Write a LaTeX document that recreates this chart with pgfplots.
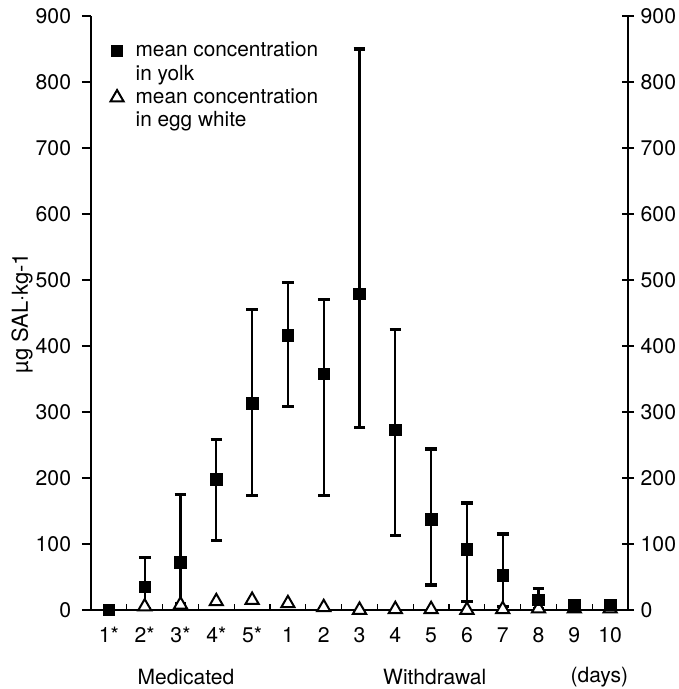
\documentclass[border=0pt]{standalone}
\usepackage{fontspec}
\setmainfont{TeX Gyre Heros}
\usepackage{pgfplots}
\pgfplotsset{compat=1.18}
\begin{document}
\fontsize{10.5pt}{12.5pt}\selectfont
\begin{tikzpicture}
\pgfplotsset{
  common/.style={
    width=268.5pt, height=297pt, scale only axis,
    xmin=0.5, xmax=15.5, ymin=0, ymax=900,
    /pgf/number format/assume math mode=true,
    ticklabel style={font=\fontsize{10.6pt}{12pt}\selectfont},
    axis line style={line width=0.6pt},
    every tick/.style={black, line width=0.6pt},
  }
}
\begin{axis}[common, name=ax,
  axis x line*=bottom, axis y line*=left,
  ytick={0,100,...,900},
  y tick style={/pgfplots/major tick length=4.5pt},
  ytick align=outside,
  xtick={1,...,15},
  xticklabels={1*,2*,3*,4*,5*,1,2,3,4,5,6,7,8,9,10},
  major x tick style={draw=none},
  minor xtick={1.5,2.5,...,14.5},
  minor x tick style={/pgfplots/minor tick length=3pt},
  xtick align=inside,
  xticklabel style={yshift=-5pt},
  yticklabel style={xshift=-2pt},
  clip=false,
  legend style={at={(axis description cs:0.016,0.96)}, anchor=north west, draw=none, fill=none,
    row sep=0.6pt, font=\fontsize{10.4pt}{12pt}\selectfont, inner sep=0pt,
    nodes={inner sep=1pt},
    /tikz/every odd column/.append style={column sep=5pt}},
  legend cell align=left,
]
\addplot[forget plot, only marks, mark=triangle*, mark size=3.8pt,
  mark options={fill=white, draw=black, line width=1pt}]
  coordinates {(2,5) (3,8) (4,13) (5,15) (6,10) (7,4) (8,0) (9,1) (10,1) (11,0) (12,1) (13,2) (14,2) (15,2)};
\addplot[forget plot, only marks, mark=square*, mark size=2.9pt, black,
  error bars/.cd, y dir=both, y explicit,
  error bar style={line width=1.1pt},
  error mark options={rotate=90, line width=1.6pt, mark size=2.9pt}]
  coordinates {
   (1,0)
   (2,35) += (0,45) -= (0,33)
   (3,72) += (0,103) -= (0,62)
   (4,198) += (0,60) -= (0,93)
   (5,313) += (0,142) -= (0,140)
   (6,416) += (0,80) -= (0,108)
   (7,358) += (0,113) -= (0,184)
   (8,479) += (0,371) -= (0,203)
   (9,273) += (0,152) -= (0,160)
   (10,137) += (0,107) -= (0,99)
   (11,92) += (0,70) -= (0,79)
   (12,52) += (0,63) -= (0,47)
   (13,15) += (0,17) -= (0,13)
   (14,7)
   (15,8)
  };
\addlegendimage{only marks, mark=square*, mark size=2.9pt, black}
\addlegendentry{mean concentration}
\addlegendimage{empty legend}
\addlegendentry{in yolk}
\addlegendimage{only marks, mark=triangle*, mark size=3.8pt, mark options={fill=white, draw=black, line width=1pt}}
\addlegendentry{mean concentration}
\addlegendimage{empty legend}
\addlegendentry{in egg white}
\node[rotate=90, font=\fontsize{11pt}{13pt}\selectfont] at ([xshift=-34.5pt]rel axis cs:0,0.5) {µg SAL·kg-1};
\node at ([yshift=-33.5pt]axis cs:3.15,0) {Medicated};
\node at ([yshift=-33.5pt]axis cs:10.1,0) {Withdrawal};
\node at ([yshift=-33.5pt]axis cs:14.7,0) {(days)};
\end{axis}
\begin{axis}[common,
  axis x line=none, axis y line*=right,
  ytick={0,100,...,900},
  ytick align=center,
  y tick style={/pgfplots/major tick length=6pt},
  yticklabel style={xshift=0.5pt},
]
\addplot[draw=none] coordinates {(1,0)};
\end{axis}
\pgfresetboundingbox
\path ([xshift=-45.5pt,yshift=-39.5pt]ax.south west) rectangle ([xshift=25pt,yshift=8pt]ax.north east);
\end{tikzpicture}
\end{document}
